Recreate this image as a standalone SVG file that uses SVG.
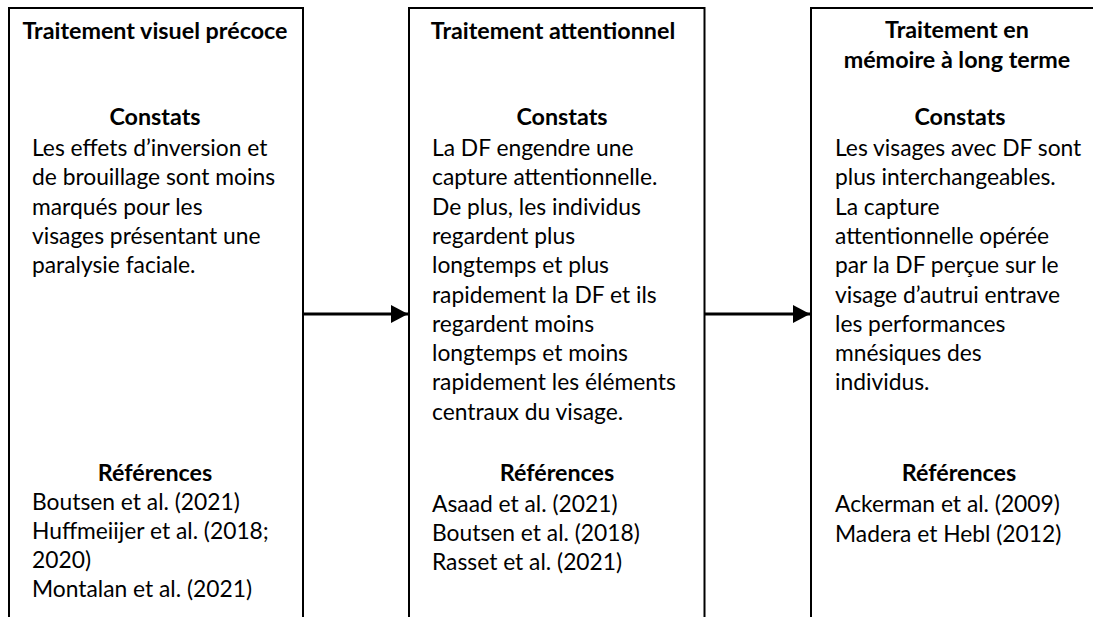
<svg xmlns="http://www.w3.org/2000/svg" width="1093" height="617" viewBox="0 0 1093 617">
<style>
.box{fill:#fff;stroke:#000;stroke-width:2}
.h{font-family:Lato,"Liberation Sans",sans-serif;font-weight:bold;font-size:23.3px;fill:#000;text-anchor:middle}
.t{font-family:Lato,"Liberation Sans",sans-serif;font-size:22.8px;fill:#000}
.conn{stroke:#000;stroke-width:3;fill:none}
</style>
<defs>
<marker id="arr" markerUnits="userSpaceOnUse" markerWidth="17" markerHeight="18" refX="17" refY="9" orient="auto">
<path d="M0,0 L17,9 L0,18 Z" fill="#000"/>
</marker>
</defs>
<rect width="1093" height="617" fill="#fff"/>
<g id="connectors">
<line class="conn" x1="304" y1="314" x2="408" y2="314" marker-end="url(#arr)"/>
<line class="conn" x1="705" y1="314" x2="810" y2="314" marker-end="url(#arr)"/>
</g>
<g id="node-visuel">
<rect class="box" x="9" y="8" width="294" height="640"/>
<text class="h" x="155" y="39">Traitement visuel précoce</text>
<text class="h" x="155" y="125">Constats</text>
<text class="t" x="32" y="156">Les effets d’inversion et</text>
<text class="t" x="32" y="185.3">de brouillage sont moins</text>
<text class="t" x="32" y="214.6">marqués pour les</text>
<text class="t" x="32" y="243.9">visages présentant une</text>
<text class="t" x="32" y="273.2">paralysie faciale.</text>
<text class="h" x="155" y="481">Références</text>
<text class="t" x="32" y="510">Boutsen et al. (2021)</text>
<text class="t" x="32" y="539">Huffmeiijer et al. (2018;</text>
<text class="t" x="32" y="568">2020)</text>
<text class="t" x="32" y="597">Montalan et al. (2021)</text>
</g>
<g id="node-attentionnel">
<rect class="box" x="409" y="8" width="295.5" height="640"/>
<text class="h" x="553" y="39">Traitement attentionnel</text>
<text class="h" x="562" y="125">Constats</text>
<text class="t" x="432" y="156">La DF engendre une</text>
<text class="t" x="432" y="185.3">capture attentionnelle.</text>
<text class="t" x="432" y="214.6">De plus, les individus</text>
<text class="t" x="432" y="243.9">regardent plus</text>
<text class="t" x="432" y="273.2">longtemps et plus</text>
<text class="t" x="432" y="302.5">rapidement la DF et ils</text>
<text class="t" x="432" y="331.8">regardent moins</text>
<text class="t" x="432" y="361.1">longtemps et moins</text>
<text class="t" x="432" y="390.4">rapidement les éléments</text>
<text class="t" x="432" y="419.7">centraux du visage.</text>
<text class="h" x="557" y="481">Références</text>
<text class="t" x="432" y="512">Asaad et al. (2021)</text>
<text class="t" x="432" y="541">Boutsen et al. (2018)</text>
<text class="t" x="432" y="570">Rasset et al. (2021)</text>
</g>
<g id="node-memoire">
<rect class="box" x="811" y="8" width="320" height="640"/>
<text class="h" x="957" y="38">Traitement en</text>
<text class="h" x="957" y="68">mémoire à long terme</text>
<text class="h" x="960" y="125">Constats</text>
<text class="t" x="835" y="156">Les visages avec DF sont</text>
<text class="t" x="835" y="185.3">plus interchangeables.</text>
<text class="t" x="835" y="214.6">La capture</text>
<text class="t" x="835" y="243.9">attentionnelle opérée</text>
<text class="t" x="835" y="273.2">par la DF perçue sur le</text>
<text class="t" x="835" y="302.5">visage d’autrui entrave</text>
<text class="t" x="835" y="331.8">les performances</text>
<text class="t" x="835" y="361.1">mnésiques des</text>
<text class="t" x="835" y="390.4">individus.</text>
<text class="h" x="959" y="481">Références</text>
<text class="t" x="835" y="512">Ackerman et al. (2009)</text>
<text class="t" x="835" y="542">Madera et Hebl (2012)</text>
</g>
</svg>
